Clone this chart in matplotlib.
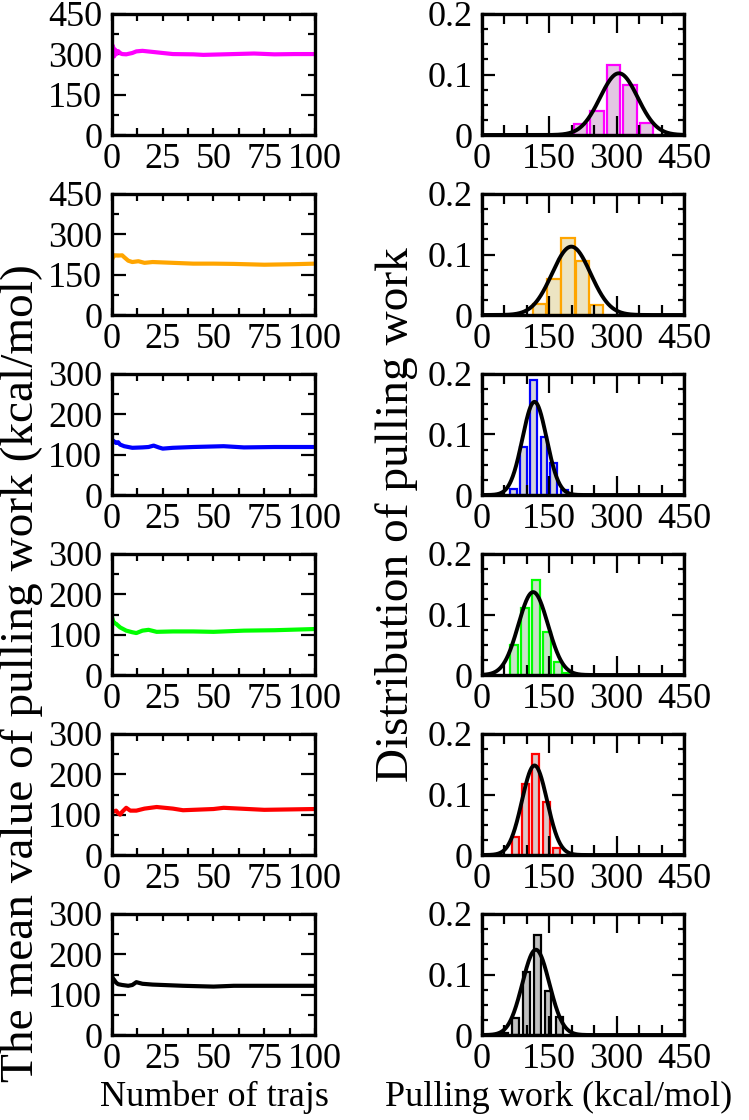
import numpy as np
import matplotlib
matplotlib.use("Agg")
import matplotlib.pyplot as plt
from matplotlib.ticker import MultipleLocator

plt.rcParams['font.family'] = ['Liberation Serif', 'DejaVu Serif']
plt.rcParams['font.size'] = 26

colors = ['#ff00ff', '#ffa500', '#0000ff', '#00ff00', '#ff0000', '#000000']
fills = ['#e2c6e2', '#ece4c2', '#d2d2da', '#c8e2c8', '#dcc8c8', '#c0c0c0']
ymax_left = [450, 450, 300, 300, 300, 300]

# running mean of pulling work vs number of trajectories
run_x = [
    [0, 0.5, 1, 1.5, 2, 3, 4, 5, 7, 10, 12, 15, 20, 25, 30, 40, 45, 55, 70, 80, 90, 100],
    [0, 0.5, 1, 3, 5, 6, 8, 10, 13, 16, 20, 30, 40, 50, 60, 75, 90, 100],
    [0, 1, 2, 3, 4, 6, 8, 10, 15, 18, 20.5, 23, 25, 30, 40, 55, 65, 80, 100],
    [0, 0.5, 1, 2, 4, 7, 10, 12, 15, 18, 22, 30, 40, 50, 65, 80, 100],
    [0, 1, 2, 3, 4, 5, 7, 9, 12, 16, 22, 30, 35, 50, 55, 75, 100],
    [0, 0.5, 1, 2, 3, 5, 8, 10, 12, 15, 20, 25, 35, 50, 60, 75, 100],
]
run_y = [
    [336, 330, 292, 318, 300, 312, 305, 301, 300, 305, 311, 313, 309, 305, 301, 300, 298, 300, 303, 300, 301, 301],
    [206, 215, 222, 221, 222, 215, 202, 197, 200, 194, 197, 194, 191, 191, 190, 187, 189, 191],
    [137, 133, 129, 131, 125, 121, 119, 117, 118, 119, 122.5, 118, 115, 117, 119, 121, 118, 119, 119],
    [143, 135, 129, 127, 118, 110, 106, 104, 110, 112, 107, 108, 108, 107, 110, 111, 114],
    [107, 108, 110, 104, 100, 107, 117, 110, 110, 115, 119, 115, 111, 114, 117, 112, 114],
    [145, 140, 137, 130, 126, 124, 122, 124, 131, 127, 125, 124, 122, 120, 122, 122, 122],
]

# histogram of pulling work (bin centres, bar widths, heights)
bin_centers = [
    [219, 256, 293, 330, 367],
    [128, 160, 192, 224, 255],
    [70, 93, 115, 138, 160, 183],
    [71, 96, 120, 145, 169, 192],
    [74, 97, 120, 143, 166],
    [51, 74, 99, 123, 147, 172],
]
bar_widths = [30, 30, 15, 17, 16, 15]
bin_heights = [
    [0.018, 0.040, 0.116, 0.083, 0.020],
    [0.019, 0.060, 0.128, 0.089, 0.017],
    [0.010, 0.079, 0.190, 0.096, 0.053, 0.008],
    [0.050, 0.111, 0.157, 0.071, 0.021, 0.004],
    [0.029, 0.117, 0.167, 0.088, 0.012],
    [0.004, 0.028, 0.104, 0.165, 0.072, 0.029],
]

# gaussian fits: mean, sigma, amplitude
fit_mean = [305, 199, 117, 114, 117, 120]
fit_sigma = [42, 43, 27, 33, 28, 30]
fit_amp = [0.102, 0.113, 0.154, 0.137, 0.148, 0.141]

fig = plt.figure(figsize=(7.49, 11.2), dpi=100)
W, H = 749.0, 1120.0
tops = [14, 194, 374, 554, 734, 914]
ah = 121


def style(ax, xmaj_len, xmin_len, ymaj_len, ymin_len):
    for s in ax.spines.values():
        s.set_linewidth(2.4)
    ax.tick_params(which='both', direction='in', top=True, right=True, width=1.6)
    ax.tick_params(axis='x', which='major', length=xmaj_len, pad=6)
    ax.tick_params(axis='x', which='minor', length=xmin_len)
    ax.tick_params(axis='y', which='major', length=ymaj_len, pad=7)
    ax.tick_params(axis='y', which='minor', length=ymin_len)


xs = np.linspace(0, 450, 500)
for i in range(6):
    b = 1 - (tops[i] + ah) / H
    axl = fig.add_axes([112 / W, b, 203 / W, ah / H])
    axl.plot(run_x[i], run_y[i], color=colors[i], lw=3)
    axl.set_xlim(0, 100)
    axl.set_ylim(0, ymax_left[i])
    axl.xaxis.set_major_locator(MultipleLocator(25))
    axl.xaxis.set_minor_locator(MultipleLocator(12.5))
    step = ymax_left[i] / 3
    axl.yaxis.set_major_locator(MultipleLocator(step))
    axl.yaxis.set_minor_locator(MultipleLocator(step / 2))
    style(axl, 5, 5, 10, 5)

    axr = fig.add_axes([482 / W, b, 202 / W, ah / H])
    axr.bar(bin_centers[i], bin_heights[i], width=bar_widths[i], color=fills[i],
            edgecolor=colors[i], linewidth=1.6)
    axr.plot(xs, fit_amp[i] * np.exp(-0.5 * ((xs - fit_mean[i]) / fit_sigma[i]) ** 2),
             color='black', lw=2.8)
    axr.set_xlim(0, 450)
    axr.set_ylim(0, 0.2)
    axr.xaxis.set_major_locator(MultipleLocator(150))
    axr.xaxis.set_minor_locator(MultipleLocator(50))
    axr.yaxis.set_minor_locator(MultipleLocator(0.025))
    axr.set_yticks([0, 0.1, 0.2])
    axr.set_yticklabels(['0', '0.1', '0.2'])
    style(axr, 14, 7, 9, 4)

fig.text(22 / W, 1 - 673 / H, 'The mean value of pulling work (kcal/mol)',
         rotation=90, ha='center', va='center', fontsize=34)
fig.text(397 / W, 1 - 515 / H, 'Distribution of pulling work',
         rotation=90, ha='center', va='center', fontsize=34)
fig.text(214 / W, 1 - 1097 / H, 'Number of trajs', ha='center', va='center', fontsize=26)
fig.text(385 / W, 1 - 1097 / H, 'Pulling work (kcal/mol)', ha='left', va='center', fontsize=26)

fig.savefig('out.png', dpi=100)
